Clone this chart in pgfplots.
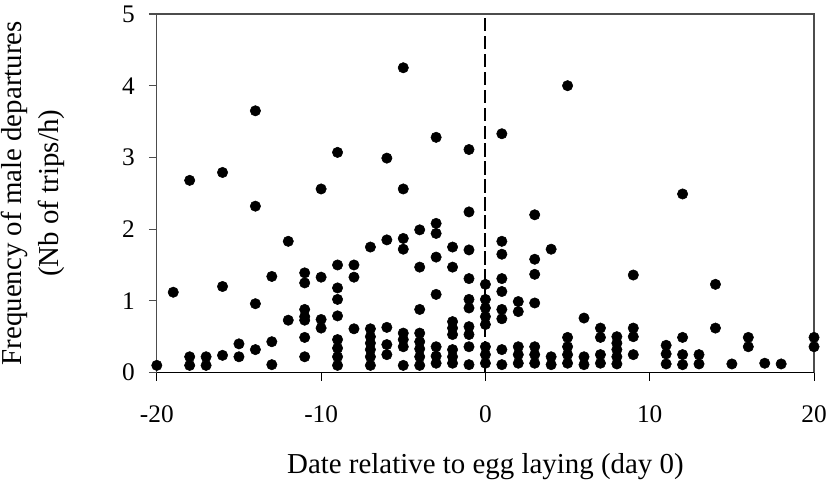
\documentclass[border=0pt]{standalone}
\usepackage{fontspec}
\setmainfont{Liberation Serif}
\usepackage{pgfplots}
\pgfplotsset{compat=1.18}
\begin{document}
\begin{tikzpicture}
\useasboundingbox (-117.75pt,-91.5pt) rectangle (507.75pt,279.75pt);
\begin{axis}[
  anchor=south west, at={(0pt,0pt)},
  width=493.5pt, height=269.25pt, scale only axis,
  xmin=-20, xmax=20, ymin=0, ymax=5,
  xtick={-20,-10,0,10,20}, xticklabels={-20,-10,0,10,20},
  ytick={0,1,2,3,4,5}, yticklabels={0,1,2,3,4,5},
  xtick pos=bottom, ytick pos=left,
  tick align=outside, major tick length=6pt,
  tick style={black!70, line width=0.8pt},
  xtick style={black},
  axis line style={black!70, line width=0.9pt},
  ticklabel style={font=\fontsize{19}{22}\selectfont},
  yticklabel style={xshift=-7pt},
  xticklabel style={yshift=-15pt},
  label style={font=\fontsize{21.7}{26}\selectfont},
  xlabel={Date relative to egg laying (day 0)},
  ylabel={Frequency of male departures\\[2pt](Nb of trips/h)},
  ylabel style={align=center, at={(axis description cs:-0.188,0.5)}, anchor=center},
  xlabel style={at={(axis description cs:0.5,-0.262)}, anchor=center},
  clip=false,
]
\addplot[black, dash pattern=on 10pt off 3.5pt, line width=1.5pt] coordinates {(0,0) (0,5)};
\draw[black, line width=1pt] (axis cs:-20,0) -- (axis cs:20,0);
\addplot[only marks, mark=*, mark size=3.9pt, black] coordinates {
(-20,0.10)
(-19,1.12)
(-18,2.68) (-18,0.22) (-18,0.10)
(-17,0.22) (-17,0.10)
(-16,2.79) (-16,1.20) (-16,0.24)
(-15,0.40) (-15,0.22)
(-14,3.65) (-14,2.32) (-14,0.96) (-14,0.32)
(-13,1.34) (-13,0.43) (-13,0.11)
(-12,1.83) (-12,0.73)
(-11,1.39) (-11,1.25) (-11,0.88) (-11,0.78) (-11,0.73) (-11,0.49) (-11,0.22)
(-10,2.56) (-10,1.33) (-10,0.74) (-10,0.62)
(-9,3.07) (-9,1.50) (-9,1.18) (-9,1.02) (-9,0.79) (-9,0.46) (-9,0.34) (-9,0.22) (-9,0.10)
(-8,1.50) (-8,1.33) (-8,0.61)
(-7,1.75) (-7,0.61) (-7,0.50) (-7,0.41) (-7,0.32) (-7,0.22) (-7,0.10)
(-6,2.99) (-6,1.85) (-6,0.63) (-6,0.39) (-6,0.25)
(-5,4.25) (-5,2.56) (-5,1.87) (-5,1.72) (-5,0.55) (-5,0.46) (-5,0.36) (-5,0.10)
(-4,1.99) (-4,1.47) (-4,0.88) (-4,0.55) (-4,0.43) (-4,0.33) (-4,0.22) (-4,0.10)
(-3,3.28) (-3,2.08) (-3,1.94) (-3,1.61) (-3,1.09) (-3,0.36) (-3,0.23) (-3,0.13)
(-2,1.75) (-2,1.47) (-2,0.71) (-2,0.62) (-2,0.53) (-2,0.32) (-2,0.22) (-2,0.13)
(-1,3.11) (-1,2.24) (-1,1.71) (-1,1.31) (-1,1.02) (-1,0.90) (-1,0.64) (-1,0.53) (-1,0.36) (-1,0.11)
(0,1.23) (0,1.02) (0,0.90) (0,0.78) (0,0.67) (0,0.36) (0,0.25) (0,0.13)
(1,3.33) (1,1.83) (1,1.65) (1,1.31) (1,1.13) (1,0.88) (1,0.75) (1,0.32) (1,0.11)
(2,0.99) (2,0.85) (2,0.36) (2,0.25) (2,0.13)
(3,2.20) (3,1.58) (3,1.37) (3,0.97) (3,0.36) (3,0.25) (3,0.13)
(4,1.72) (4,0.22) (4,0.11)
(5,4.00) (5,0.49) (5,0.36) (5,0.25) (5,0.13)
(6,0.76) (6,0.22) (6,0.11)
(7,0.62) (7,0.49) (7,0.25) (7,0.13)
(8,0.50) (8,0.41) (8,0.32) (8,0.22) (8,0.12)
(9,1.36) (9,0.62) (9,0.50) (9,0.25)
(11,0.38) (11,0.26) (11,0.12)
(12,2.49) (12,0.49) (12,0.25) (12,0.11)
(13,0.25) (13,0.12)
(14,1.23) (14,0.62)
(15,0.12)
(16,0.49) (16,0.36)
(17,0.13)
(18,0.12)
(20,0.49) (20,0.36)
};
\end{axis}
\end{tikzpicture}
\end{document}
